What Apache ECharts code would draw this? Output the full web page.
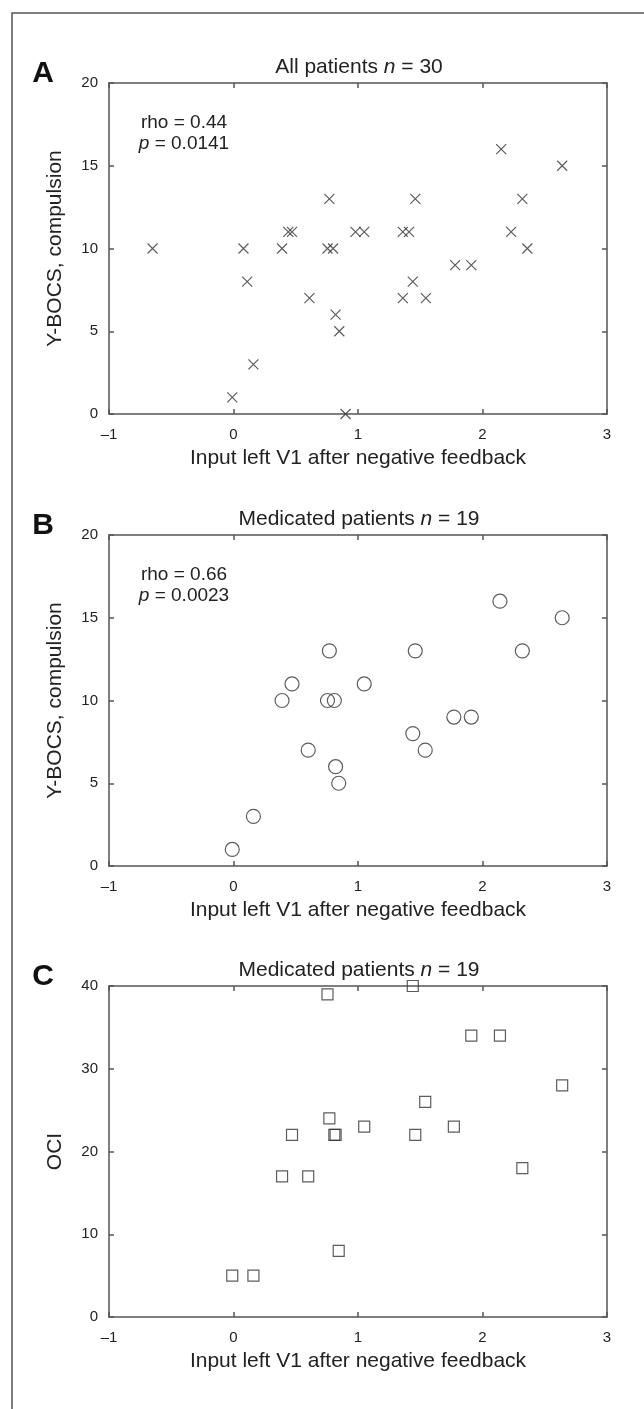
<!DOCTYPE html>
<html>
<head>
<meta charset="utf-8">
<script src="https://cdn.jsdelivr.net/npm/echarts@6/dist/echarts.min.js"></script>
<style>
html,body{margin:0;padding:0;background:#fff;}
#c{width:644px;height:1409px;}
</style>
</head>
<body>
<div id="c"></div>
<script>
// ---- data ----
const xTicks = [-1, 0, 1, 2, 3];
const yTicksCompulsion = [0, 5, 10, 15, 20];
const yTicksOCI = [0, 10, 20, 30, 40];

const xAll = [-0.65, -0.01, 0.08, 0.11, 0.16, 0.39, 0.44, 0.47, 0.61, 0.755, 0.77, 0.80, 0.82, 0.85, 0.90, 0.98, 1.05, 1.36, 1.36, 1.41, 1.44, 1.46, 1.545, 1.78, 1.91, 2.15, 2.23, 2.32, 2.36, 2.64];
const yAllCompulsion = [10, 1, 10, 8, 3, 10, 11, 11, 7, 10, 13, 10, 6, 5, 0, 11, 11, 11, 7, 11, 8, 13, 7, 9, 9, 16, 11, 13, 10, 15];

const xMed = [-0.01, 0.16, 0.39, 0.47, 0.60, 0.755, 0.77, 0.81, 0.82, 0.845, 1.05, 1.44, 1.46, 1.54, 1.77, 1.91, 2.14, 2.32, 2.64];
const yMedCompulsion = [1, 3, 10, 11, 7, 10, 13, 10, 6, 5, 11, 8, 13, 7, 9, 9, 16, 13, 15];
const yMedOCI = [5, 5, 17, 22, 17, 39, 24, 22, 22, 8, 23, 40, 22, 26, 23, 34, 34, 18, 28];

const panelTitles = [['All patients ', '30'], ['Medicated patients ', '19'], ['Medicated patients ', '19']];
const panelLetters = ['A', 'B', 'C'];
const yNames = ['Y-BOCS, compulsion', 'Y-BOCS, compulsion', 'OCI'];
const xName = 'Input left V1 after negative feedback';
const stats = [['0.44', '0.0141'], ['0.66', '0.0023'], null];

// ---- layout ----
const FONT = '"Liberation Sans", Arial, Helvetica, sans-serif';
const AX = '#555';
const TXT = '#222';
const MK = '#333';
const gridTops = [83, 535, 986];
const gridH = 331, gridL = 109, gridW = 498;

const zip = (xs, ys) => xs.map((x, i) => [x, ys[i]]);
const seriesData = [zip(xAll, yAllCompulsion), zip(xMed, yMedCompulsion), zip(xMed, yMedOCI)];
const yTickSets = [yTicksCompulsion, yTicksCompulsion, yTicksOCI];
const symbols = ['path://M0,0L10,10M10,0L0,10', 'circle', 'rect'];
const symSizes = [10, 14, 11];

const fmtX = v => (v < 0 ? '\u2013' + Math.abs(v) : String(v));

const grids = [], xAxes = [], yAxes = [], series = [], titles = [], graphics = [];

gridTops.forEach((top, i) => {
  grids.push({left: gridL, top: top, width: gridW, height: gridH, containLabel: false});
  const yt = yTickSets[i];
  const yInt = yt[1] - yt[0];
  const lineStyle = {color: AX, width: 1.5};
  // bottom x
  xAxes.push({
    gridIndex: i, type: 'value', position: 'bottom',
    min: xTicks[0], max: xTicks[xTicks.length - 1], interval: 1,
    name: xName, nameLocation: 'middle', nameGap: 34,
    nameTextStyle: {fontFamily: FONT, fontSize: 21, color: TXT},
    axisLine: {show: true, onZero: false, lineStyle},
    axisTick: {show: true, inside: true, length: 5, lineStyle},
    axisLabel: {fontFamily: FONT, fontSize: 15, color: TXT, margin: 13, formatter: fmtX},
    splitLine: {show: false}
  });
  // top x
  xAxes.push({
    gridIndex: i, type: 'value', position: 'top',
    min: xTicks[0], max: xTicks[xTicks.length - 1], interval: 1,
    axisLine: {show: true, onZero: false, lineStyle},
    axisTick: {show: true, inside: true, length: 5, lineStyle},
    axisLabel: {show: false}, splitLine: {show: false}
  });
  // left y
  yAxes.push({
    gridIndex: i, type: 'value', position: 'left',
    min: yt[0], max: yt[yt.length - 1], interval: yInt,
    name: yNames[i], nameLocation: 'middle', nameGap: 43,
    nameTextStyle: {fontFamily: FONT, fontSize: 21, color: TXT},
    axisLine: {show: true, onZero: false, lineStyle},
    axisTick: {show: true, inside: true, length: 5, lineStyle},
    axisLabel: {fontFamily: FONT, fontSize: 15, color: TXT, margin: 11},
    splitLine: {show: false}
  });
  // right y
  yAxes.push({
    gridIndex: i, type: 'value', position: 'right',
    min: yt[0], max: yt[yt.length - 1], interval: yInt,
    axisLine: {show: true, onZero: false, lineStyle},
    axisTick: {show: true, inside: true, length: 5, lineStyle},
    axisLabel: {show: false}, splitLine: {show: false}
  });
  series.push({
    type: 'scatter', xAxisIndex: 2 * i, yAxisIndex: 2 * i,
    data: seriesData[i], symbol: symbols[i], symbolSize: symSizes[i],
    itemStyle: {color: 'rgba(0,0,0,0)', borderColor: MK, borderWidth: 1.2},
    emphasis: {disabled: true}, silent: true
  });
  titles.push({
    text: '{a|' + panelTitles[i][0] + '}{i|n}{a| = ' + panelTitles[i][1] + '}',
    left: gridL + gridW / 2 - 4, top: top - 31, textAlign: 'center',
    textStyle: {
      fontWeight: 'normal',
      rich: {
        a: {fontFamily: FONT, fontSize: 21, color: TXT, fontWeight: 'normal'},
        i: {fontFamily: FONT, fontSize: 21, color: TXT, fontStyle: 'italic', fontWeight: 'normal'}
      }
    }
  });
  graphics.push({
    type: 'text', x: 43, y: top - 9,
    style: {text: panelLetters[i], font: 'bold 30px ' + FONT, fill: '#111', textAlign: 'center', textVerticalAlign: 'middle'}
  });
  if (stats[i]) {
    graphics.push({
      type: 'text', x: 184, y: top + 40,
      style: {text: 'rho = ' + stats[i][0], font: '19px ' + FONT, fill: TXT, textAlign: 'center', textVerticalAlign: 'middle'}
    });
    graphics.push({
      type: 'text', x: 184, y: top + 61,
      style: {
        text: '{i|p}{a| = ' + stats[i][1] + '}', textAlign: 'center', textVerticalAlign: 'middle',
        rich: {
          a: {font: '19px ' + FONT, fill: TXT},
          i: {font: 'italic 19px ' + FONT, fill: TXT}
        }
      }
    });
  }
});

graphics.push({
  type: 'rect', shape: {x: 12, y: 13, width: 700, height: 1500},
  style: {fill: 'none', stroke: AX, lineWidth: 1.5}, silent: true
});

const chart = echarts.init(document.getElementById('c'), null, {renderer: 'canvas'});
chart.setOption({
  animation: false,
  backgroundColor: '#fff',
  title: titles,
  grid: grids,
  xAxis: xAxes,
  yAxis: yAxes,
  series: series,
  graphic: graphics
});
</script>
</body>
</html>
